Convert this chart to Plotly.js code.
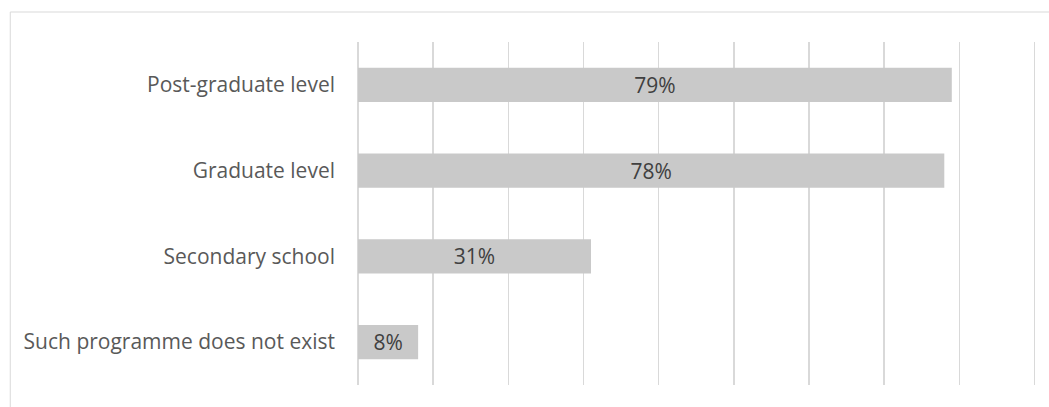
<!DOCTYPE html>
<html>
<head>
<meta charset="utf-8">
<script src="https://cdn.plot.ly/plotly-3.0.1.min.js"></script>
<style>html,body{margin:0;padding:0;background:#fff;}#chart{width:1049px;height:407px;}</style>
</head>
<body>
<div id="chart"></div>
<script>
const categories = ["Post-graduate level", "Graduate level", "Secondary school", "Such programme does not exist"];
const values = [0.79, 0.78, 0.31, 0.08];
const labels = ["79%", "78%", "31%", "8%"];

const trace = {
  type: 'bar',
  orientation: 'h',
  y: categories,
  x: values,
  text: labels,
  textposition: 'inside',
  insidetextanchor: 'middle',
  textangle: 0,
  textfont: {family: '"Open Sans", sans-serif', size: 21, color: '#404040'},
  marker: {color: '#c9c9c9', line: {width: 0}},
  width: 0.4,
  hoverinfo: 'none'
};

const layout = {
  width: 1049, height: 407,
  margin: {l: 358, r: 6.5, t: 42, b: 22, pad: 0},
  paper_bgcolor: '#ffffff', plot_bgcolor: '#ffffff',
  showlegend: false,
  xaxis: {
    range: [0, 0.91], dtick: 0.1, tick0: 0,
    showticklabels: false, showgrid: true, gridcolor: '#d9d9d9', gridwidth: 1.5,
    zeroline: true, zerolinecolor: '#d9d9d9', zerolinewidth: 1.5,
    showline: false, ticks: '', fixedrange: true
  },
  yaxis: {
    autorange: 'reversed', type: 'category',
    showgrid: false, zeroline: false, showline: false, ticks: '',
    ticklabelstandoff: 22,
    tickfont: {family: '"Open Sans", sans-serif', size: 21, color: '#595959'},
    fixedrange: true
  },
  shapes: [{
    type: 'rect', xref: 'paper', yref: 'paper',
    x0: (10 - 358) / 684.5, x1: 1.2, y0: -0.2, y1: (385 - 12) / 343,
    line: {color: '#d9d9d9', width: 1}, fillcolor: 'rgba(0,0,0,0)', layer: 'below'
  }]
};

Plotly.newPlot('chart', [trace], layout, {displayModeBar: false, staticPlot: true});
</script>
</body>
</html>
